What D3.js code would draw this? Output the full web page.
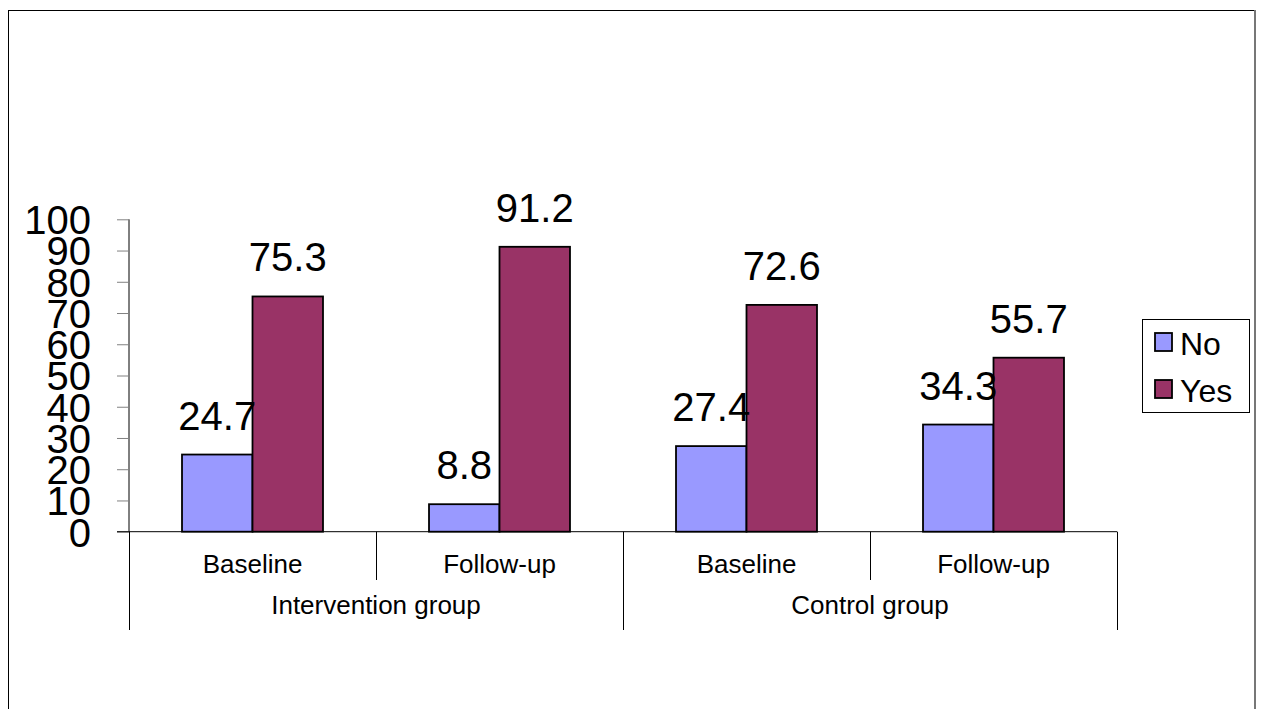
<!DOCTYPE html>
<html>
<head>
<meta charset="utf-8">
<script src="https://cdn.jsdelivr.net/npm/d3@7"></script>
<style>
  html, body { margin: 0; padding: 0; background: #fff; }
  svg { display: block; }
  text { font-family: "Liberation Sans", Arial, sans-serif; fill: #000; }
</style>
</head>
<body>
<script>
const categories = ["Baseline", "Follow-up", "Baseline", "Follow-up"];
const groups = ["Intervention group", "Control group"];
const groupOf = [0, 0, 1, 1];
const series = ["No", "Yes"];
const noValues = [24.7, 8.8, 27.4, 34.3];
const yesValues = [75.3, 91.2, 72.6, 55.7];
const yTicks = [0, 10, 20, 30, 40, 50, 60, 70, 80, 90, 100];
const colors = ["#9999FF", "#993366"];

const W = 1261, H = 709;
const svg = d3.select("body").append("svg").attr("width", W).attr("height", H);

// outer border
svg.append("rect").attr("x", 8.5).attr("y", 10.5).attr("width", 1246).attr("height", 720)
  .attr("fill", "none").attr("stroke", "#000").attr("stroke-width", 1);
svg.append("line").attr("x1", 1255).attr("x2", 1255).attr("y1", 10).attr("y2", H)
  .attr("stroke", "#777").attr("stroke-width", 2);

const plotL = 129, plotR = 1117, y0 = 531.7, y100 = 219.3;
const idx = d3.range(categories.length);
const x = d3.scaleBand().domain(idx).range([plotL, plotR]).padding(0);
const xs = d3.scaleBand().domain(series).range([0, x.bandwidth()]).paddingInner(0).paddingOuter(0.752);
const y = d3.scaleLinear().domain([0, 100]).range([y0, y100]);

// y axis
const yAxis = d3.axisLeft(y).tickValues(yTicks).tickSize(12).tickPadding(26).tickFormat(d3.format("d"));
const ga = svg.append("g").attr("transform", `translate(${plotL},0)`).call(yAxis);
ga.select(".domain").attr("stroke", "#000").attr("d", `M0,${y100}V${y0}`);
ga.selectAll(".tick line").attr("stroke", "#808080");
ga.selectAll(".tick text").attr("font-size", 40).attr("font-family", "Liberation Sans, Arial, sans-serif")
  .attr("fill", "#000").attr("dy", "0.36em");

// x axis baseline
svg.append("line").attr("x1", plotL - 12).attr("x2", plotR).attr("y1", y0).attr("y2", y0)
  .attr("stroke", "#000").attr("stroke-width", 1);

// bars
const data = idx.map(i => ({ i, vals: [noValues[i], yesValues[i]] }));
const g = svg.selectAll("g.cat").data(data).enter().append("g").attr("class", "cat")
  .attr("transform", d => `translate(${x(d.i)},0)`);
g.selectAll("rect").data(d => d.vals.map((v, k) => ({ v, k }))).enter().append("rect")
  .attr("x", d => xs(series[d.k]))
  .attr("y", d => y(d.v))
  .attr("width", xs.bandwidth())
  .attr("height", d => y0 - y(d.v))
  .attr("fill", d => colors[d.k])
  .attr("stroke", "#000").attr("stroke-width", 1.8);
g.selectAll("text").data(d => d.vals.map((v, k) => ({ v, k }))).enter().append("text")
  .attr("x", d => xs(series[d.k]) + xs.bandwidth() / 2)
  .attr("y", d => y(d.v) - 25)
  .attr("text-anchor", "middle").attr("font-size", 40)
  .text(d => d.v.toFixed(1));

// category separators and labels
idx.forEach(i => {
  const xl = x(i);
  const isGroupStart = i === 0 || groupOf[i] !== groupOf[i - 1];
  svg.append("line").attr("x1", xl + 0.5).attr("x2", xl + 0.5).attr("y1", y0)
    .attr("y2", isGroupStart ? 630 : 580).attr("stroke", "#000").attr("stroke-width", 1);
  svg.append("text").attr("x", xl + x.bandwidth() / 2).attr("y", 573)
    .attr("text-anchor", "middle").attr("font-size", 26).text(categories[i]);
});
svg.append("line").attr("x1", plotR + 0.5).attr("x2", plotR + 0.5).attr("y1", y0).attr("y2", 630)
  .attr("stroke", "#000").attr("stroke-width", 1);
groups.forEach((gname, gi) => {
  const members = idx.filter(i => groupOf[i] === gi);
  const xa = x(members[0]), xb = x(members[members.length - 1]) + x.bandwidth();
  svg.append("text").attr("x", (xa + xb) / 2).attr("y", 614)
    .attr("text-anchor", "middle").attr("font-size", 26).text(gname);
});

// legend
const lg = svg.append("g");
lg.append("rect").attr("x", 1142.5).attr("y", 319.5).attr("width", 107).attr("height", 93)
  .attr("fill", "#fff").attr("stroke", "#000").attr("stroke-width", 1);
series.forEach((s, k) => {
  const yy = 333 + k * 47;
  lg.append("rect").attr("x", 1155).attr("y", yy).attr("width", 17).attr("height", 18)
    .attr("fill", colors[k]).attr("stroke", "#000").attr("stroke-width", 1.8);
  lg.append("text").attr("x", 1180).attr("y", yy + 22).attr("font-size", 32).text(s);
});
</script>
</body>
</html>
